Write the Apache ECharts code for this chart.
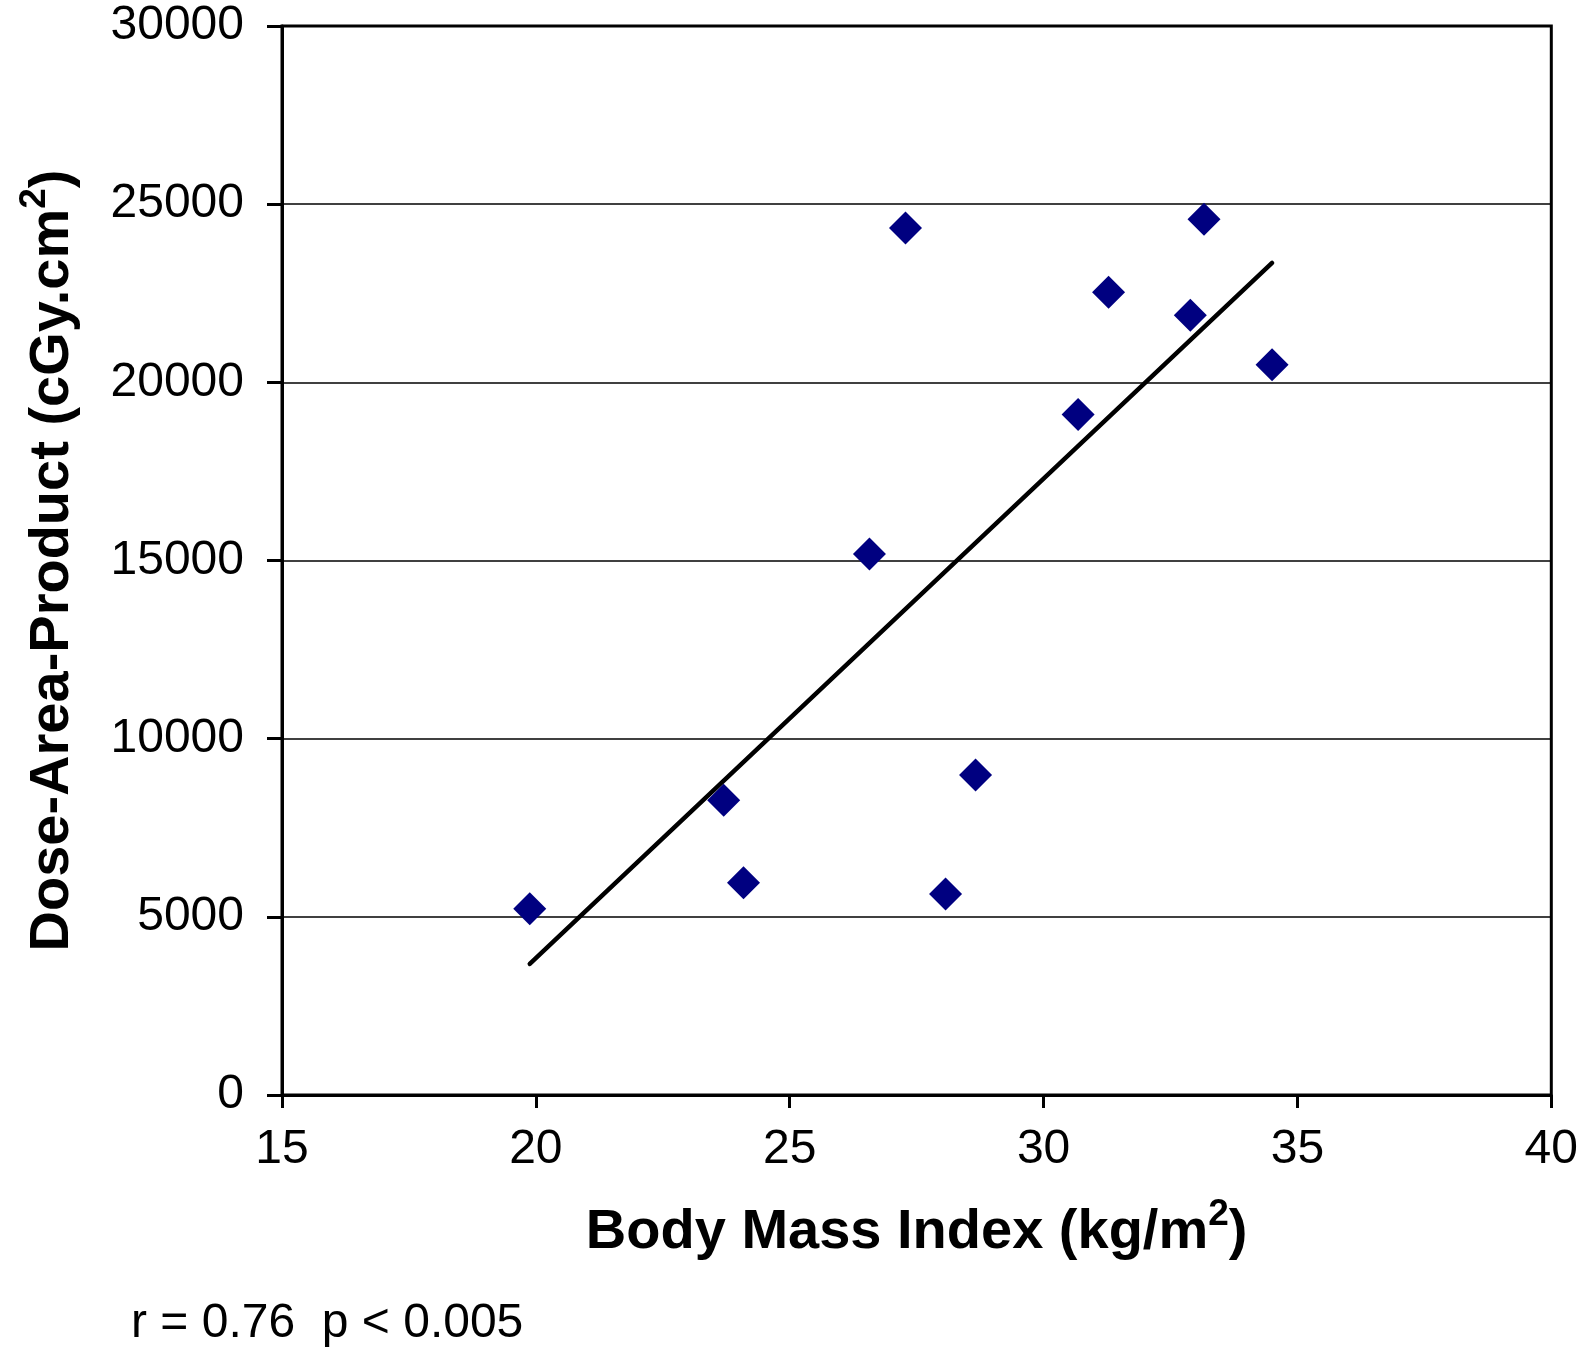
<!DOCTYPE html>
<html><head><meta charset="utf-8">
<script src="https://cdn.jsdelivr.net/npm/echarts@6/dist/echarts.min.js"></script>
<style>html,body{margin:0;padding:0;background:#fff}#c{width:1581px;height:1353px}</style>
</head><body><div id="c"></div>
<script>
// Data
const bmi = [19.88, 23.70, 24.09, 26.57, 27.28, 28.07, 28.66, 30.68, 31.28, 32.89, 33.16, 34.50];
const dap = [5230, 8270, 5960, 15180, 24330, 5640, 8980, 19100, 22530, 21880, 24580, 20490];
const trendBmi = [19.88, 34.50];
const trendDap = [3680, 23350];
const xAxisRange = [15, 40, 5];      // min, max, interval
const yAxisRange = [0, 30000, 5000]; // min, max, interval
const xTitle = ['Body Mass Index (kg/m', '2', ')'];
const yTitle = ['Dose-Area-Product (cGy.cm', '2', ')'];
const footnote = 'r = 0.76  p < 0.005';

const FONT = '"Liberation Sans", Arial, Helvetica, sans-serif';
const points = bmi.map((x, i) => [x, dap[i]]);
const trend = trendBmi.map((x, i) => [x, trendDap[i]]);
const titleRich = {
  n: { fontFamily: FONT, fontWeight: 'bold', fontSize: 56, lineHeight: 74, color: '#000', verticalAlign: 'middle' },
  s: { fontFamily: FONT, fontWeight: 'bold', fontSize: 37, lineHeight: 37, color: '#000', verticalAlign: 'top' }
};
const mk = t => `{n|${t[0]}}{s|${t[1]}}{n|${t[2]}}`;

const chart = echarts.init(document.getElementById('c'), null, { renderer: 'canvas' });
chart.setOption({
  animation: false,
  backgroundColor: '#fff',
  grid: { left: 282, right: 13, top: 26, bottom: 258, show: true, borderColor: '#000', borderWidth: 3, backgroundColor: 'transparent' },
  xAxis: {
    type: 'value', min: xAxisRange[0], max: xAxisRange[1], interval: xAxisRange[2],
    name: mk(xTitle), nameLocation: 'middle', nameGap: 101,
    nameTextStyle: { rich: titleRich },
    axisLine: { show: true, lineStyle: { color: '#000', width: 3 } },
    axisTick: { show: true, inside: false, length: 13, lineStyle: { color: '#000', width: 3 } },
    axisLabel: { fontFamily: FONT, fontSize: 48, color: '#000', margin: 31, formatter: v => String(v) },
    splitLine: { show: false }
  },
  yAxis: {
    type: 'value', min: yAxisRange[0], max: yAxisRange[1], interval: yAxisRange[2],
    name: mk(yTitle), nameLocation: 'middle', nameGap: 192, nameRotate: 90,
    nameTextStyle: { rich: titleRich },
    axisLine: { show: true, lineStyle: { color: '#000', width: 3 } },
    axisTick: { show: true, inside: false, length: 15, lineStyle: { color: '#000', width: 3 } },
    axisLabel: { fontFamily: FONT, fontSize: 48, color: '#000', margin: 38, formatter: v => String(v) },
    splitLine: { show: true, lineStyle: { color: '#000', width: 1.5 } }
  },
  series: [
    {
      type: 'line', data: trend, showSymbol: false, symbol: 'none', z: 2,
      lineStyle: { color: '#000', width: 4.5, cap: 'round' }
    },
    {
      type: 'scatter', data: points, symbol: 'diamond', symbolSize: 33, z: 3,
      itemStyle: { color: '#000080', opacity: 1 }
    }
  ],
  graphic: [
    { type: 'text', left: 131, top: 1300, style: { text: footnote, font: '48px ' + FONT, fill: '#000' } }
  ]
});
</script>
</body></html>
